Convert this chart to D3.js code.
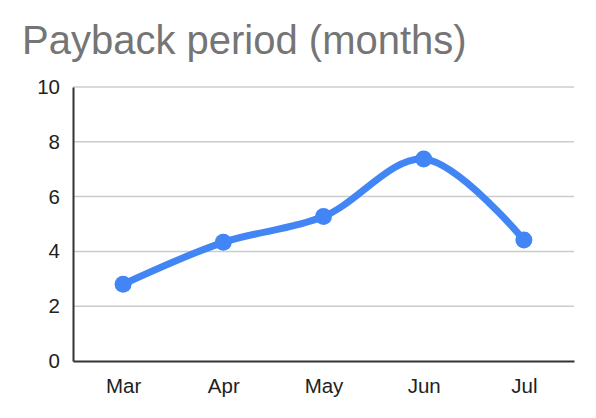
<!DOCTYPE html>
<html>
<head>
<meta charset="utf-8">
<script src="https://cdn.jsdelivr.net/npm/d3@7"></script>
<style>
    body { margin: 0; background: #fff; }
    svg { display: block; font-family: "Liberation Sans", Arial, sans-serif; }
    .grid line { stroke: #ccc; stroke-width: 1.5px; }
</style>
</head>
<body>
<svg width="596" height="418"></svg>
<script>
    var months = ["Mar", "Apr", "May", "Jun", "Jul"];
    var payback = [2.8, 4.33, 5.27, 7.37, 4.42];
    var yTicks = [0, 2, 4, 6, 8, 10];

    var svg = d3.select("svg"),
        margin = { top: 87, right: 22, bottom: 57, left: 73 },
        width = 596 - margin.left - margin.right,
        height = 418 - margin.top - margin.bottom;

    svg.append("text")
        .attr("x", 22)
        .attr("y", 54)
        .attr("fill", "#757575")
        .style("font-size", "40px")
        .text("Payback period (months)");

    var g = svg.append("g").attr("transform", "translate(" + margin.left + "," + margin.top + ")");

    var x = d3.scalePoint().domain(months).range([0, width]).padding(0.5);
    var y = d3.scaleLinear().domain([0, 10]).range([height, 0]);

    // gridlines
    g.append("g")
        .attr("class", "grid")
        .selectAll("line")
        .data(yTicks.slice(1))
        .enter().append("line")
        .attr("x1", 0).attr("x2", width)
        .attr("y1", function (d) { return y(d); })
        .attr("y2", function (d) { return y(d); });

    var yAxis = g.append("g")
        .call(d3.axisLeft(y).tickValues(yTicks).tickSize(0).tickPadding(13));
    yAxis.select(".domain").attr("stroke", "#333").attr("stroke-width", 2);

    var xAxis = g.append("g")
        .attr("transform", "translate(0," + height + ")")
        .call(d3.axisBottom(x).tickSize(0).tickPadding(17));
    xAxis.select(".domain").attr("stroke", "#333").attr("stroke-width", 2);

    g.selectAll(".tick text")
        .attr("fill", "#222")
        .style("font-family", "Liberation Sans, Arial, sans-serif")
        .style("font-size", "20.5px");

    var data = months.map(function (m, i) { return { m: m, v: payback[i] }; });

    var line = d3.line()
        .x(function (d) { return x(d.m); })
        .y(function (d) { return y(d.v); })
        .curve(d3.curveCatmullRom.alpha(0.5));

    g.append("path")
        .datum(data)
        .attr("fill", "none")
        .attr("stroke", "#4285f4")
        .attr("stroke-width", 7)
        .attr("stroke-linecap", "round")
        .attr("d", line);

    g.selectAll(".pt")
        .data(data)
        .enter().append("circle")
        .attr("class", "pt")
        .attr("cx", function (d) { return x(d.m); })
        .attr("cy", function (d) { return y(d.v); })
        .attr("r", 8.5)
        .attr("fill", "#4285f4");
</script>
</body>
</html>
